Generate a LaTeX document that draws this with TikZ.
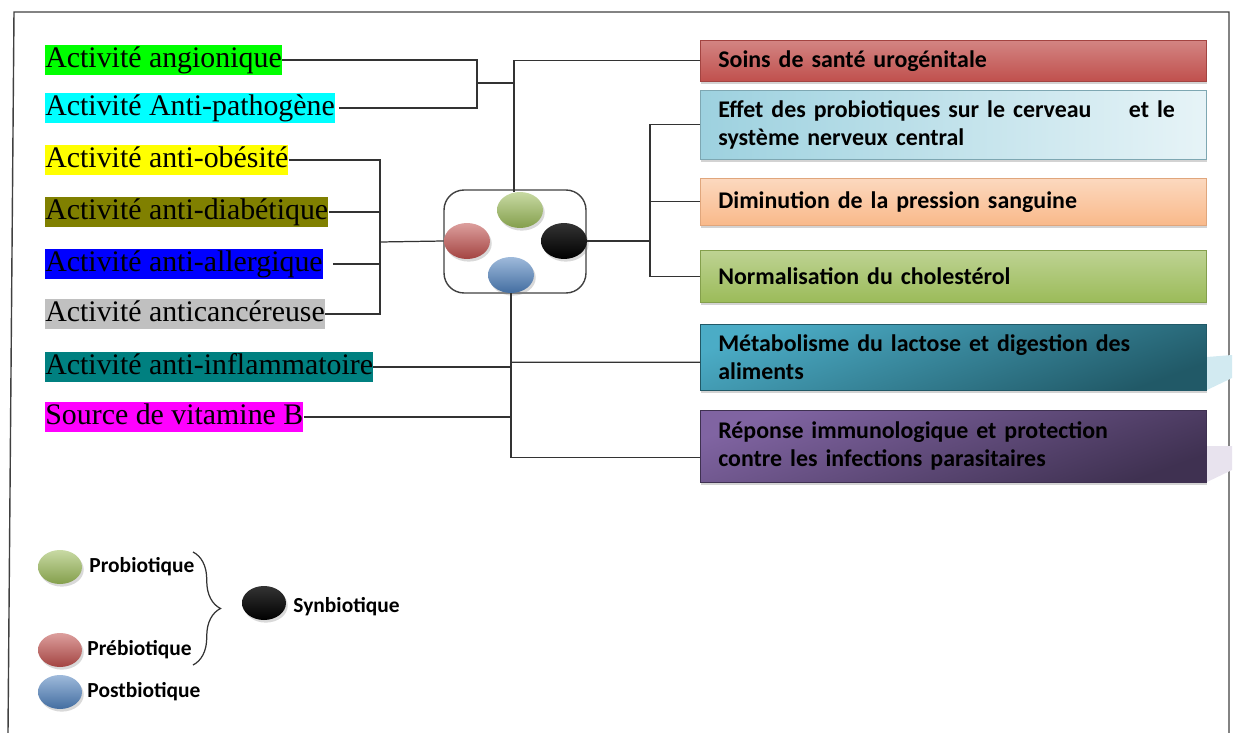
\documentclass[tikz,border=0pt]{standalone}
\usepackage{fontspec}
\setmainfont{Liberation Serif}
\newfontfamily\calib{Carlito}
\usetikzlibrary{shapes.geometric,shadows,decorations.pathreplacing}

\definecolor{vertA}{HTML}{00FF00}
\definecolor{cyanA}{HTML}{00FFFF}
\definecolor{jauneA}{HTML}{FFFF00}
\definecolor{oliveA}{HTML}{808000}
\definecolor{bleuA}{HTML}{0000FF}
\definecolor{grisA}{HTML}{C0C0C0}
\definecolor{tealA}{HTML}{008080}
\definecolor{magA}{HTML}{FF00FF}
\definecolor{rougeB}{HTML}{C0504D}
\definecolor{cielB}{HTML}{9DD1DF}
\definecolor{orangeB}{HTML}{F9B98A}
\definecolor{vertB}{HTML}{9BBB59}
\definecolor{tealB}{HTML}{4BACC6}
\definecolor{tealC}{HTML}{215967}
\definecolor{violetB}{HTML}{8064A2}
\definecolor{violetC}{HTML}{3F3151}
\definecolor{bleuB}{HTML}{4F81BD}

\begin{document}
\begin{tikzpicture}[x=0.02cm,y=-0.02cm,
    act/.style={anchor=west,inner xsep=0pt,inner ysep=1pt,text height=11.5pt,text depth=3.5pt,
        font=\fontsize{17}{19}\selectfont},
    eff/.style={anchor=north west,minimum width=10.12cm,text width=9.4cm,inner xsep=0.36cm,
        align=left,font=\calib\bfseries\fontsize{13.6}{16}\selectfont,
        drop shadow={shadow xshift=0.6pt,shadow yshift=-1.5pt,opacity=0.35}},
    bille/.style={ellipse,minimum width=0.92cm,minimum height=0.72cm,inner sep=0pt,
        top color=#1!55!white,bottom color=#1!85!black,
        drop shadow={shadow xshift=1pt,shadow yshift=-1.5pt,opacity=0.3}},
    legende/.style={anchor=west,inner sep=1pt,font=\calib\bfseries\fontsize{12.2}{14}\selectfont},
    lien/.style={draw=black!80,line width=0.7pt}]
\useasboundingbox (0,0) rectangle (1237,733);

% cadre
\draw[black!75,line width=0.8pt] (8,733) -- (14,12) -- (1229,12) -- (1229,733);

% activites
\node[act,fill=vertA] (angio) at (45,60) {Activité angionique};
\node[act,fill=cyanA] (pathog) at (45,108) {Activité Anti-pathogène};
\node[act,fill=jauneA] (obes) at (45,160) {Activité anti-obésité};
\node[act,fill=oliveA] (diab) at (45,212) {Activité anti-diabétique};
\node[act,fill=bleuA] (allerg) at (45,264) {Activité anti-allergique};
\node[act,fill=grisA] (cancer) at (45,314) {Activité anticancéreuse};
\node[act,fill=tealA] (inflam) at (45,367) {Activité anti-inflammatoire};
\node[act,fill=magA] (vitb) at (45,417) {Source de vitamine B};

% effets
\node[eff,minimum height=0.82cm,top color=rougeB!70!white,bottom color=rougeB,draw=rougeB!85!black] (uro) at (700,40) {Soins de santé urogénitale};
\node[eff,minimum height=1.38cm,left color=cielB,right color=cielB!25!white,draw=cielB!80!black] (cerveau) at (700,90)
    {Effet des probiotiques sur le cerveau\hspace{0.75cm}et le\\système nerveux central};
\node[eff,minimum height=0.94cm,top color=orangeB!55!white,bottom color=orangeB,draw=orangeB!90!black] (pression) at (700,178) {Diminution de la pression sanguine};
\node[eff,minimum height=1.04cm,top color=vertB!65!white,bottom color=vertB,draw=vertB!85!black] (chol) at (700,250) {Normalisation du cholestérol};
\node[eff,minimum height=1.32cm,top color=tealB,bottom color=tealC,shading angle=20,draw=tealC] (lactose) at (700,324)
    {Métabolisme du lactose et digestion des\\aliments};
\node[eff,minimum height=1.44cm,top color=violetB,bottom color=violetC,shading angle=20,draw=violetC] (immun) at (700,410)
    {Réponse immunologique et protection\\contre les infections parasitaires};

% reflets
\fill[tealB!25] (1207,357) -- (1232,355) -- (1232,378) -- (1207,390) -- cycle;
\fill[violetB!18] (1207,446) -- (1232,446) -- (1232,470) -- (1207,482) -- cycle;

% boite centrale
\node[draw=black!75,line width=0.8pt,rounded corners=0.4cm,minimum width=2.84cm,minimum height=2.06cm] (centre) at (515,241.5) {};
\node[bille=vertB] (pro) at (520,210) {};
\node[bille=rougeB] (pre) at (467,241) {};
\node[bille=bleuB] (post) at (511,275) {};
\node[ellipse,minimum width=0.92cm,minimum height=0.72cm,inner sep=0pt,top color=black!80,middle color=black!35,bottom color=black,
    drop shadow={shadow xshift=1pt,shadow yshift=-1.5pt,opacity=0.3}] (syn) at (564,241) {};

% liaisons gauche
\draw[lien] (angio.east) -| (477,83) |- ([xshift=0.08cm]pathog.east);
\draw[lien] (477,83) -- (514,83);
\draw[lien] (uro.west) -| ([xshift=-0.12cm]pro.north);
\coordinate (bB) at (380,242);
\draw[lien] (obes.east) -| (bB) |- (cancer.east);
\draw[lien] (diab.east) -- (diab.east -| bB);
\draw[lien] ([xshift=0.2cm]allerg.east) -- (allerg.east -| bB);
\draw[lien] (bB) -- (pre.west);
\draw[lien] (inflam.east) -- (inflam.east -| post.south);
\draw[lien] (vitb.east) -- (vitb.east -| post.south);
\draw[lien] (post.south) |- ([yshift=-0.22cm]immun.west);
\draw[lien] (post.south |- lactose.west) ++(0,5) -- ([yshift=-0.1cm]lactose.west);

% liaisons droite
\coordinate (bD) at (650,241);
\draw[lien] (syn.east) -- (bD);
\draw[lien] (cerveau.west) -| (bD) |- (chol.west);
\draw[lien] (pression.west) -- (pression.west -| bD);

% legende
\node[bille=vertB,minimum width=0.88cm,minimum height=0.68cm] (lpro) at (60,567) {};
\node[legende] (tpro) at ([xshift=0.1cm]lpro.east) {Probiotique};
\node[bille=rougeB,minimum width=0.88cm,minimum height=0.68cm] (lpre) at (60,650) {};
\node[legende] (tpre) at ([xshift=0.06cm]lpre.east) {Prébiotique};
\node[bille=bleuB,minimum width=0.88cm,minimum height=0.68cm] (lpost) at (60,692) {};
\node[legende] (tpost) at ([xshift=0.06cm]lpost.east) {Postbiotique};
\draw[lien,decorate,decoration={brace,amplitude=0.55cm}] (193,552) -- (193,665);
\node[ellipse,minimum width=0.88cm,minimum height=0.68cm,inner sep=0pt,top color=black!80,middle color=black!35,bottom color=black,
    drop shadow={shadow xshift=1pt,shadow yshift=-1.5pt,opacity=0.3}] (lsyn) at (264,603) {};
\node[legende] (tsyn) at ([xshift=0.1cm,yshift=-0.08cm]lsyn.east) {Synbiotique};
\end{tikzpicture}
\end{document}
